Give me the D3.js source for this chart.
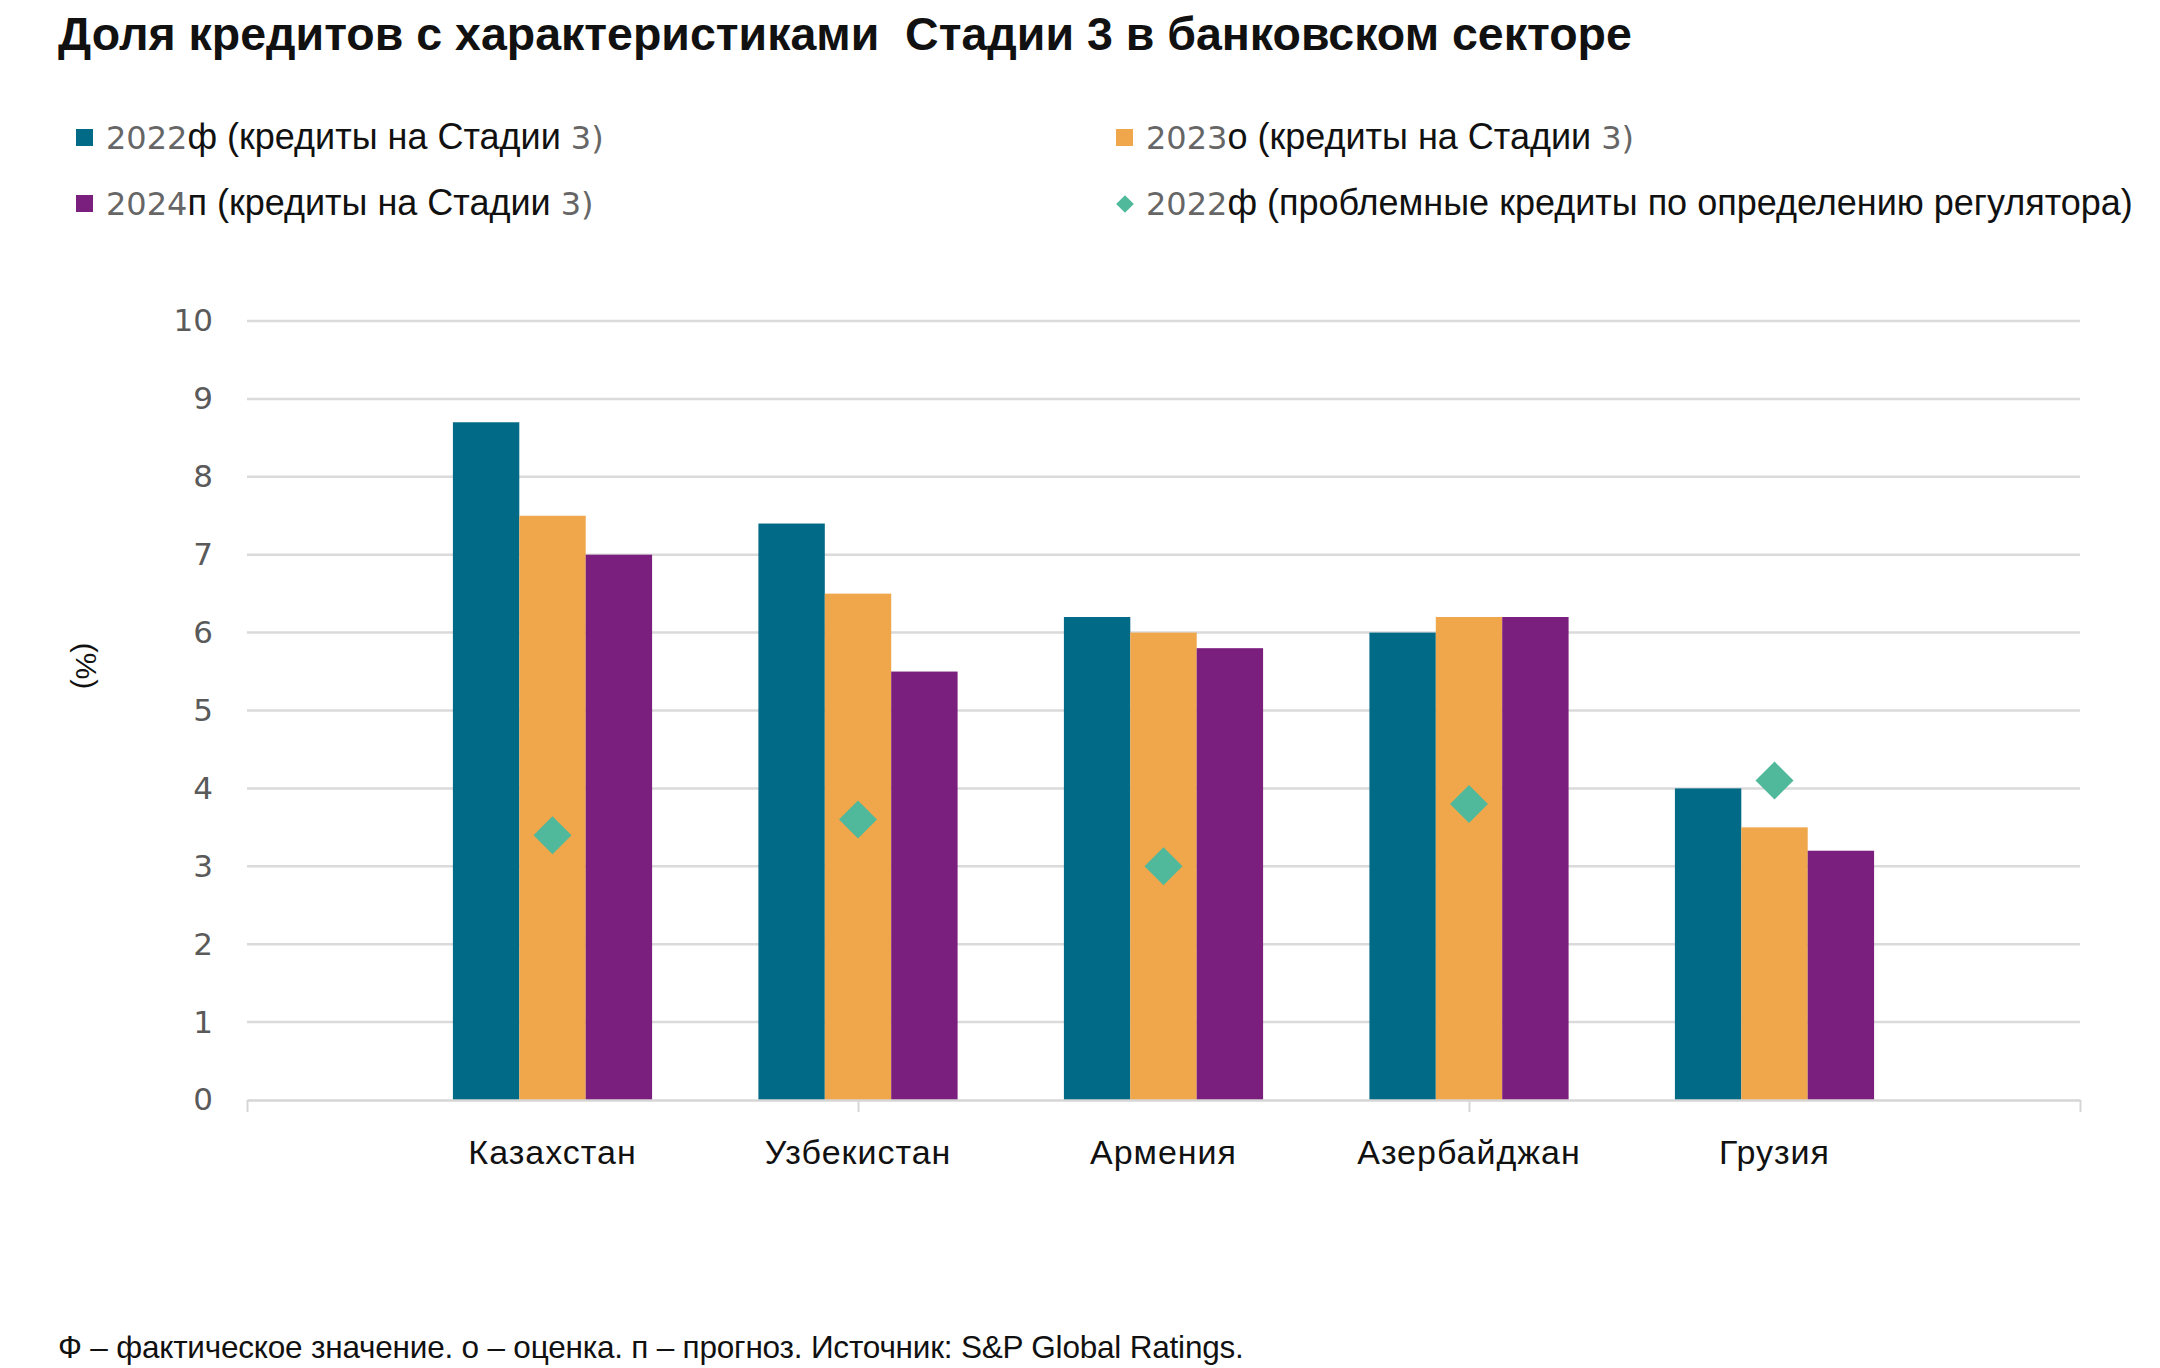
<!DOCTYPE html>
<html>
<head>
<meta charset="utf-8">
<script src="https://cdn.jsdelivr.net/npm/d3@7"></script>
<style>
  body { margin: 0; background: #fff; }
  svg { display: block; }
</style>
</head>
<body>
<div id="drawing"></div>
<script>
const width = 2160;
const height = 1368;
const margin = {top: 321, right: 80, bottom: 268, left: 247};

// data
const countries = ["Казахстан", "Узбекистан", "Армения", "Азербайджан", "Грузия"];
const stage3_2022 = [8.7, 7.4, 6.2, 6.0, 4.0];
const stage3_2023 = [7.5, 6.5, 6.0, 6.2, 3.5];
const stage3_2024 = [7.0, 5.5, 5.8, 6.2, 3.2];
const npl_2022 = [3.4, 3.6, 3.0, 3.8, 4.1];
const yTicks = [0, 1, 2, 3, 4, 5, 6, 7, 8, 9, 10];

const seriesNames = ["2022ф (кредиты на Стадии 3)", "2023о (кредиты на Стадии 3)", "2024п (кредиты на Стадии 3)"];
const markerName = "2022ф (проблемные кредиты по определению регулятора)";
const colors = ["#006a87", "#f0a64b", "#7b1f7e"];
const diamondColor = "#50b99c";

const titleText = "Доля кредитов с характеристиками  Стадии 3 в банковском секторе";
const noteText = "Ф – фактическое значение. о – оценка. п – прогноз. Источник: S&P Global Ratings.";

const narrow = "'Liberation Sans Narrow', 'Arial Narrow', 'Liberation Sans', sans-serif";
const plain = "'Liberation Sans', Arial, sans-serif";

const svg = d3.select("#drawing").append("svg")
  .attr("width", width)
  .attr("height", height)
  .style("background", "#fff");

const plotW = width - margin.left - margin.right;
const plotH = height - margin.top - margin.bottom;

const chart = svg.append("g")
  .attr("transform", `translate(${margin.left},${margin.top})`);

// categories sit on slots 1..5 of a 0..6 axis (empty slot at each end)
const xScale = d3.scaleLinear().domain([0, countries.length + 1]).range([0, plotW]);
const yScale = d3.scaleLinear().domain([0, 10]).range([plotH, 0]);
const step = xScale(1) - xScale(0);
const inner = d3.scaleBand().domain([0, 1, 2]).range([-step * 0.326, step * 0.326]);

// gridlines
chart.append("g")
  .selectAll("line")
  .data(yTicks.filter(d => d > 0))
  .enter()
  .append("line")
    .attr("x1", 0)
    .attr("x2", plotW)
    .attr("y1", d => yScale(d))
    .attr("y2", d => yScale(d))
    .style("stroke", "#dadada")
    .style("stroke-width", 2.5);

// y axis labels
const yAxis = chart.append("g")
  .call(d3.axisLeft(yScale).tickValues(yTicks).tickSize(0).tickPadding(34));
yAxis.select(".domain").remove();
yAxis.selectAll("text")
  .style("font-family", "'DejaVu Sans', sans-serif")
  .style("font-size", "31px")
  .style("fill", "#5a5a5a");

// bars
const barSeries = [stage3_2022, stage3_2023, stage3_2024];
barSeries.forEach((vals, s) => {
  chart.append("g")
    .selectAll("rect")
    .data(vals)
    .enter()
    .append("rect")
      .attr("x", (d, i) => xScale(i + 1) + inner(s))
      .attr("y", d => yScale(d))
      .attr("width", inner.bandwidth())
      .attr("height", d => plotH - yScale(d))
      .style("fill", colors[s]);
});

// x axis line with ticks every second slot
const xAxis = chart.append("g")
  .attr("transform", `translate(0,${plotH})`)
  .call(d3.axisBottom(xScale).tickValues([0, 2, 4, 6]).tickFormat("").tickSize(12).tickSizeOuter(0));
xAxis.select(".domain").style("stroke", "#d6d6d6").style("stroke-width", 2.5);
xAxis.selectAll(".tick line").style("stroke", "#d6d6d6").style("stroke-width", 2);

// category labels
chart.append("g")
  .selectAll("text")
  .data(countries)
  .enter()
  .append("text")
    .attr("x", (d, i) => xScale(i + 1))
    .attr("y", plotH + 64)
    .attr("text-anchor", "middle")
    .style("font-family", narrow)
    .style("font-size", "34px")
    .style("letter-spacing", "1px")
    .style("fill", "#111")
    .text(d => d);

// diamonds (symbolDiamond2 is already a square turned on its corner)
const diamond = d3.symbol().type(d3.symbolDiamond2).size(920);
chart.append("g")
  .selectAll("path")
  .data(npl_2022)
  .enter()
  .append("path")
    .attr("d", diamond)
    .attr("transform", (d, i) => `translate(${xScale(i + 1)},${yScale(d)})`)
    .style("fill", diamondColor);

// y axis title
svg.append("text")
  .attr("transform", "translate(76,666) rotate(90)")
  .attr("text-anchor", "middle")
  .style("font-family", plain)
  .style("font-size", "30px")
  .style("fill", "#111")
  .text("(%)");

// title (keeps the double space of the original)
svg.append("text")
  .attr("x", 58)
  .attr("y", 50)
  .style("white-space", "pre")
  .style("font-family", narrow)
  .style("font-weight", "bold")
  .style("font-size", "46.5px")
  .style("fill", "#111")
  .text(titleText);

// legend: digits come out grey and thin in the original
function legendLabel(g, label) {
  const t = g.append("text")
    .attr("x", 30)
    .attr("y", 12)
    .style("font-size", "36px");
  label.split(/(\d+\)?)/).filter(p => p.length).forEach(p => {
    const isNum = /^\d/.test(p);
    t.append("tspan")
      .style("font-family", isNum ? "'DejaVu Sans', sans-serif" : narrow)
      .style("font-size", isNum ? "32px" : "36px")
      .style("fill", isNum ? "#666" : "#111")
      .text(p);
  });
}

const legendItems = [
  {label: seriesNames[0], color: colors[0], x: 76, y: 137, shape: "square"},
  {label: seriesNames[1], color: colors[1], x: 1116, y: 137, shape: "square"},
  {label: seriesNames[2], color: colors[2], x: 76, y: 203, shape: "square"},
  {label: markerName, color: diamondColor, x: 1116, y: 203, shape: "diamond"}
];
legendItems.forEach(item => {
  const g = svg.append("g").attr("transform", `translate(${item.x},${item.y})`);
  if (item.shape === "square") {
    g.append("rect").attr("x", 0).attr("y", -8).attr("width", 17).attr("height", 17).style("fill", item.color);
  } else {
    g.append("path")
      .attr("d", d3.symbol().type(d3.symbolDiamond2).size(200))
      .attr("transform", "translate(9,1)")
      .style("fill", item.color);
  }
  legendLabel(g, item.label);
});

// footnote
svg.append("text")
  .attr("x", 58)
  .attr("y", 1358)
  .style("font-family", narrow)
  .style("font-size", "31.5px")
  .style("letter-spacing", "-0.2px")
  .style("fill", "#111")
  .text(noteText);
</script>
</body>
</html>
